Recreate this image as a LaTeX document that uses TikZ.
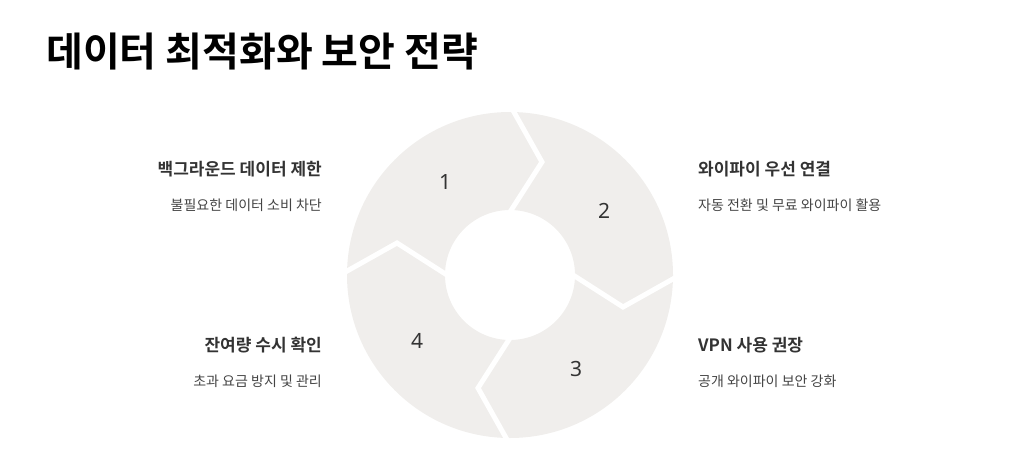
\documentclass[tikz,border=0pt]{standalone}
\usepackage{fontspec}
\newfontfamily\kr{Noto Sans CJK KR}
\newfontfamily\krb{Noto Sans CJK KR Bold}
\newfontfamily\num{Noto Sans}
\definecolor{ring}{HTML}{F0EEEC}
\definecolor{txt}{HTML}{333333}
\definecolor{sub}{HTML}{444444}
\tikzset{
 head/.style={font=\krb\fontsize{17}{20}\selectfont, text=txt, inner sep=0pt},
 desc/.style={font=\kr\fontsize{14}{17}\selectfont, text=sub, inner sep=0pt},
 numl/.style={font=\num\fontsize{21}{24}\selectfont, text=txt, inner sep=0pt},
 sep/.style={white, line width=5pt, line join=miter}
}
\begin{document}
\begin{tikzpicture}[x=1pt,y=-1pt]
\useasboundingbox (0,0) rectangle (1019,468);
\node[font=\krb\fontsize{40}{46}\selectfont, anchor=west, inner sep=0pt] (title) at (46,52) {데이터 최적화와 보안 전략};
\coordinate (c) at (510,275);
\fill[ring, even odd rule] (c) circle[radius=163] (c) circle[radius=65];
\draw[sep] (510,105) -- (542,162) -- (510,212);
\draw[sep] (680,275) -- (623,307) -- (573,275);
\draw[sep] (510,445) -- (478,388) -- (510,338);
\draw[sep] (340,275) -- (397,243) -- (447,275);
\node[numl] (n1) at (445,182) {1};
\node[numl] (n2) at (604,211) {2};
\node[numl] (n3) at (576,369) {3};
\node[numl] (n4) at (417,341) {4};
\node[head, anchor=east] (h1) at (322,169) {백그라운드 데이터 제한};
\node[desc, anchor=east] (d1) at (322,205) {불필요한 데이터 소비 차단};
\node[head, anchor=west] (h2) at (698,169) {와이파이 우선 연결};
\node[desc, anchor=west] (d2) at (698,205) {자동 전환 및 무료 와이파이 활용};
\node[head, anchor=west] (h3) at (698,345) {VPN 사용 권장};
\node[desc, anchor=west] (d3) at (698,381) {공개 와이파이 보안 강화};
\node[head, anchor=east] (h4) at (322,345) {잔여량 수시 확인};
\node[desc, anchor=east] (d4) at (322,381) {초과 요금 방지 및 관리};
\end{tikzpicture}
\end{document}
